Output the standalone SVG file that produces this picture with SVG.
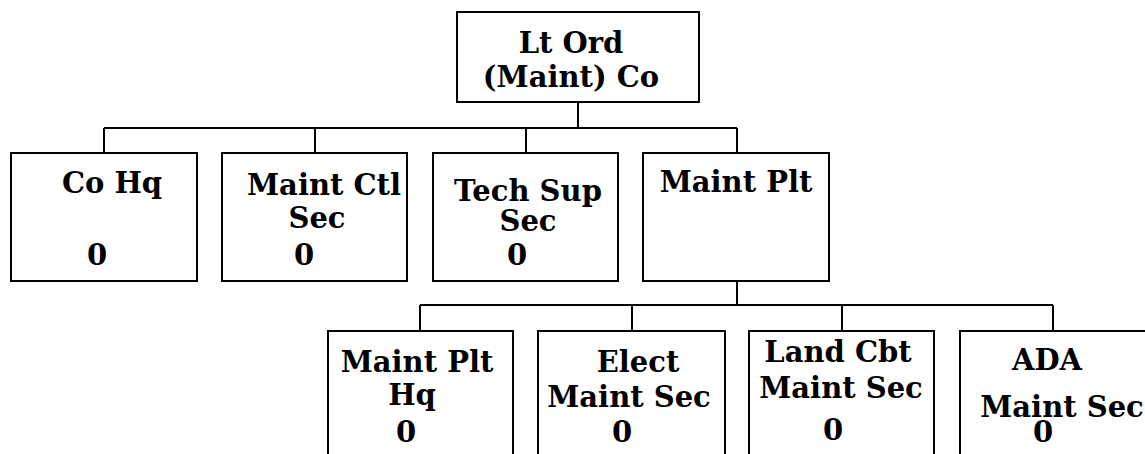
<svg xmlns="http://www.w3.org/2000/svg" width="1145" height="454" viewBox="0 0 1145 454">
<style>
.box{fill:#fff;stroke:#000;stroke-width:2}
.ln{fill:none;stroke:#000;stroke-width:2}
text{font-family:"DejaVu Serif","Liberation Serif",serif;font-weight:bold;font-size:29px;fill:#000;text-anchor:middle}
</style>
<rect width="1145" height="454" fill="#fff"/>
<g id="connectors">
<path class="ln" d="M578,102V128M104,128H737M104,128V153M315,128V153M526,128V153M737,128V153"/>
<path class="ln" d="M737,281V305M420,305H1053M420,305V331M632,305V331M842,305V331M1053,305V331"/>
</g>
<g id="n-root"><rect class="box" x="457" y="12" width="242" height="90"/><text x="571" y="53">Lt Ord</text><text x="571" y="87">(Maint) Co</text></g>
<g id="n-cohq"><rect class="box" x="11" y="153" width="186" height="128"/><text x="112" y="193">Co Hq</text><text x="97" y="265">0</text></g>
<g id="n-ctl"><rect class="box" x="222" y="153" width="185" height="128"/><text x="324" y="195">Maint Ctl</text><text x="317" y="228">Sec</text><text x="304" y="265">0</text></g>
<g id="n-tech"><rect class="box" x="433" y="153" width="185" height="128"/><text x="528" y="201">Tech Sup</text><text x="528" y="231">Sec</text><text x="517" y="265">0</text></g>
<g id="n-plt"><rect class="box" x="643" y="153" width="186" height="128"/><text x="736" y="192">Maint Plt</text></g>
<g id="n-plthq"><rect class="box" x="328" y="331" width="185" height="140"/><text x="417" y="372">Maint Plt</text><text x="412" y="405">Hq</text><text x="406" y="442">0</text></g>
<g id="n-elect"><rect class="box" x="538" y="331" width="187" height="140"/><text x="638" y="372">Elect</text><text x="629" y="407">Maint Sec</text><text x="622" y="442">0</text></g>
<g id="n-land"><rect class="box" x="749" y="331" width="185" height="140"/><text x="838" y="362">Land Cbt</text><text x="841" y="398">Maint Sec</text><text x="833" y="440">0</text></g>
<g id="n-ada"><rect class="box" x="960" y="331" width="200" height="140"/><text x="1047" y="370">ADA</text><text x="1062" y="417">Maint Sec</text><text x="1043" y="442">0</text></g>
</svg>
